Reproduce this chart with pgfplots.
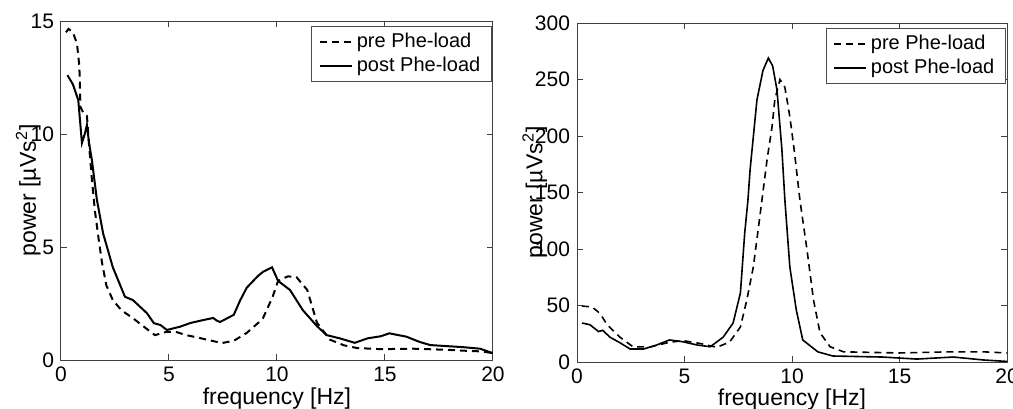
\documentclass[border=0pt]{standalone}
\usepackage{pgfplots}
\pgfplotsset{compat=1.18}
\usepackage{fontspec}
\setmainfont{Liberation Sans}
\begin{document}
\begin{tikzpicture}
\pgfplotsset{
  psd/.style={
    scale only axis, width=216pt, height=169.5pt,
    xmin=0, xmax=20, xtick={0,5,10,15,20}, ymin=0,
    tick align=inside, major tick length=3pt,
    axis line style={black!75, line width=0.5pt},
    every tick/.style={black!75, line width=0.5pt},
    /pgf/number format/assume math mode=true,
    ticklabel style={font=\fontsize{10.5}{12}\selectfont},
    label style={font=\fontsize{11.5}{13}\selectfont},
    xlabel={frequency [Hz]},
    ylabel={power [µVs\textsuperscript{2}]},
    legend style={at={(0.997,0.985)}, anchor=north east, draw=black!70,
      font=\fontsize{10}{11.5}\selectfont, cells={anchor=west},
      inner xsep=3.5pt, inner ysep=1.5pt, row sep=-1pt},
    legend image code/.code={\draw[#1] (0pt,0pt) -- (16pt,0pt);},
  },
  pre/.style={black, line width=1pt, dash pattern=on 3.5pt off 2.5pt},
  post/.style={black, line width=1pt},
}
\path[use as bounding box] (0,0) rectangle (506.5pt,204pt);

\begin{axis}[psd, at={(30.5pt,24pt)}, anchor=south west,
  ymax=15, ytick={0,5,10,15},
  x label style={at={(axis description cs:0.5,0)}, anchor=center, yshift=-19.5pt},
  y label style={at={(axis description cs:-0.076,0.5)}, anchor=center},
]
\addplot[pre] coordinates {
(0.23,14.5) (0.35,14.65) (0.55,14.5) (0.74,14.0) (0.85,13.0) (0.9,11.2) (1.05,10.9)
(1.2,10.8) (1.3,9.5) (1.43,8.0) (1.57,6.6) (1.75,5.3) (1.9,4.3) (2.1,3.3) (2.4,2.65)
(2.8,2.2) (3.33,1.85) (3.8,1.5) (4.35,1.1) (4.9,1.25) (5.3,1.25) (5.8,1.1) (6.3,1.0)
(6.75,0.9) (7.45,0.75) (8.0,0.85) (8.6,1.2) (9.2,1.7) (9.35,1.85) (9.8,2.8) (10.05,3.5)
(10.5,3.7) (10.9,3.67) (11.4,3.1) (11.85,1.65) (12.45,0.9) (13.1,0.65) (13.7,0.53)
(14.8,0.48) (16.3,0.5) (17.9,0.45) (18.9,0.4) (19.5,0.38) (20,0.3)
};
\addlegendentry{pre Phe-load}
\addplot[post] coordinates {
(0.3,12.6) (0.55,12.2) (0.8,11.5) (0.97,9.6) (1.1,10.0) (1.2,10.4) (1.3,9.6) (1.43,8.85)
(1.66,7.1) (1.95,5.6) (2.4,4.1) (2.96,2.8) (3.33,2.65) (3.98,2.07) (4.3,1.63) (4.6,1.55)
(4.9,1.33) (5.5,1.47) (6.0,1.64) (6.6,1.77) (7.05,1.86) (7.2,1.75) (7.36,1.68) (7.6,1.8)
(8.0,2.0) (8.3,2.65) (8.6,3.2) (9.1,3.7) (9.35,3.9) (9.77,4.1) (10.05,3.5) (10.6,3.1)
(11.2,2.2) (11.85,1.5) (12.3,1.1) (12.9,0.96) (13.6,0.76) (14.2,0.96) (14.8,1.05)
(15.2,1.18) (16.0,1.03) (16.6,0.8) (17.1,0.66) (18.6,0.57) (19.4,0.5) (20,0.3)
};
\addlegendentry{post Phe-load}
\end{axis}

\begin{axis}[psd, at={(288.5pt,23pt)}, anchor=south west, width=215pt,
  ymax=300, ytick={0,50,...,300},
  x label style={at={(axis description cs:0.5,0)}, anchor=center, yshift=-19pt},
  y label style={at={(axis description cs:-0.098,0.5)}, anchor=center},
]
\addplot[pre, line width=0.8pt] coordinates {
(0.23,49.5) (0.7,48.7) (1.07,43) (1.4,33) (2.0,22) (2.6,13.5) (3.4,13.3) (4.2,17)
(4.9,19) (5.7,16.5) (6.5,13) (7.1,17.7) (7.6,31) (7.9,55) (8.2,84) (8.5,128) (8.84,179)
(9.07,208) (9.2,232) (9.44,250) (9.67,243) (9.9,217) (10.1,188) (10.37,143) (10.7,99)
(11.0,55) (11.3,26) (11.77,13.5) (12.4,9) (15,8) (17.35,9) (18.9,9) (20,8)
};
\addlegendentry{pre Phe-load}
\addplot[post, line width=0.8pt] coordinates {
(0.23,34.5) (0.6,33) (1.0,27) (1.2,28) (1.53,22) (2.0,17) (2.47,11.5) (3.1,11.5)
(3.7,15) (4.3,19.5) (4.9,18) (5.6,15) (6.2,13.5) (6.8,22) (7.26,34.5) (7.6,61) (7.8,114)
(7.95,143) (8.05,170) (8.37,232) (8.65,258) (8.9,269) (9.1,262) (9.3,241) (9.53,188)
(9.67,143) (9.9,84) (10.2,46) (10.5,19.5) (11.2,9) (11.9,5.3) (14.2,4.4) (15.8,2.6)
(17.5,4.4) (18.9,1.8) (20,0.5)
};
\addlegendentry{post Phe-load}
\end{axis}
\end{tikzpicture}
\end{document}
